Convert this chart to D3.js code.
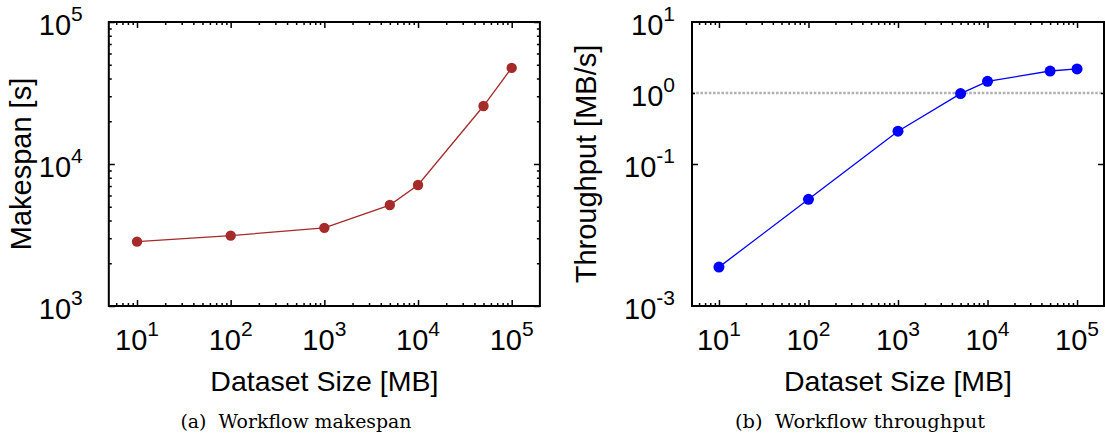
<!DOCTYPE html>
<html>
<head>
<meta charset="utf-8">
<script src="https://cdn.jsdelivr.net/npm/d3@7"></script>
<style>
  html, body { margin: 0; padding: 0; background: #fff; }
  svg { display: block; }
</style>
</head>
<body>
<svg id="chart" width="1105" height="444"></svg>
<script>
// ---- data ----
const datasetSizes = [10, 100, 1000, 5000, 10000, 50000, 100000];
const makespan = [2840, 3130, 3550, 5140, 7110, 25600, 47500];
const throughput = [0.00353, 0.0318, 0.290, 0.98, 1.46, 2.04, 2.18];
const xTickValues = [10, 100, 1000, 10000, 100000];
const xTickExponents = ["1", "2", "3", "4", "5"];
const yTickValuesA = [1e3, 1e4, 1e5];
const yTickExponentsA = ["3", "4", "5"];
const yTickValuesB = [10, 1, 0.1, 0.001];
const yTickExponentsB = ["1", "0", "-1", "-3"];
const referenceThroughput = [1];
const xTitle = "Dataset Size [MB]";
const yTitleA = "Makespan [s]";
const yTitleB = "Throughput [MB/s]";
const captionA = "(a)\u00A0\u00A0Workflow makespan";
const captionB = "(b)\u00A0\u00A0Workflow throughput";

const svg = d3.select("#chart");
svg.append("rect").attr("width", 1105).attr("height", 444).attr("fill", "#fff");
const SANS = "'Liberation Sans', Arial, Helvetica, sans-serif";
const SERIF = "'DejaVu Serif', 'Liberation Serif', serif";

function minorsLog(lo, hi) {
  const out = [];
  for (let e = Math.floor(Math.log10(lo)); e <= Math.ceil(Math.log10(hi)); e++) {
    for (let m = 2; m <= 9; m++) {
      const v = m * Math.pow(10, e);
      if (v > lo * 1.001 && v < hi * 0.999) out.push(v);
    }
  }
  return out;
}

function panel(cfg) {
  const g = svg.append("g");
  const x = cfg.x, y = cfg.y;
  const [x0, x1] = x.range();
  const [y0, y1] = y.range(); // y0 bottom, y1 top

  // reference line
  if (cfg.ref) {
    g.selectAll("line.ref").data(cfg.ref).join("line")
      .attr("x1", x0).attr("x2", x1)
      .attr("y1", d => y(d)).attr("y2", d => y(d))
      .attr("stroke", "#b2b2b2").attr("stroke-width", 2.4)
      .attr("stroke-dasharray", "2.6,1.6");
  }

  // ticks (inward, mirrored)
  function styleAxis(sel) {
    sel.select(".domain").remove();
    sel.selectAll(".tick line").attr("stroke", "#000").attr("stroke-width", 1.5);
    sel.selectAll(".tick text").remove();
  }
  const xMin = minorsLog(x.domain()[0], x.domain()[1]);
  g.append("g").attr("transform", `translate(0,${y0})`)
    .call(d3.axisBottom(x).tickValues(cfg.xTicks).tickSize(-6).tickFormat(""))
    .call(styleAxis);
  g.append("g").attr("transform", `translate(0,${y0})`)
    .call(d3.axisBottom(x).tickValues(xMin).tickSize(-3).tickFormat(""))
    .call(styleAxis);
  g.append("g").attr("transform", `translate(0,${y1})`)
    .call(d3.axisTop(x).tickValues(cfg.xTicks).tickSize(-6).tickFormat(""))
    .call(styleAxis);
  g.append("g").attr("transform", `translate(0,${y1})`)
    .call(d3.axisTop(x).tickValues(xMin).tickSize(-3).tickFormat(""))
    .call(styleAxis);

  g.append("g").attr("transform", `translate(${x0},0)`)
    .call(d3.axisLeft(y).tickValues(cfg.yMajor).tickSize(-6).tickFormat(""))
    .call(styleAxis);
  g.append("g").attr("transform", `translate(${x1},0)`)
    .call(d3.axisRight(y).tickValues(cfg.yMajor).tickSize(-6).tickFormat(""))
    .call(styleAxis);
  if (cfg.yMinor.length) {
    g.append("g").attr("transform", `translate(${x0},0)`)
      .call(d3.axisLeft(y).tickValues(cfg.yMinor).tickSize(-3).tickFormat(""))
      .call(styleAxis);
    g.append("g").attr("transform", `translate(${x1},0)`)
      .call(d3.axisRight(y).tickValues(cfg.yMinor).tickSize(-3).tickFormat(""))
      .call(styleAxis);
  }

  // series
  const pts = cfg.xs.map((d, i) => [d, cfg.ys[i]]);
  g.append("path").datum(pts)
    .attr("fill", "none").attr("stroke", cfg.color).attr("stroke-width", 1.3)
    .attr("d", d3.line().x(d => x(d[0])).y(d => y(d[1])));
  g.selectAll("circle.pt").data(pts).join("circle")
    .attr("cx", d => x(d[0])).attr("cy", d => y(d[1]))
    .attr("r", cfg.r).attr("fill", cfg.color);

  // frame
  g.append("rect")
    .attr("x", x0).attr("y", y1).attr("width", x1 - x0).attr("height", y0 - y1)
    .attr("fill", "none").attr("stroke", "#000").attr("stroke-width", 2);

  // x tick labels
  const xl = g.selectAll("text.xl").data(cfg.xTicks).join("text")
    .attr("x", d => x(d)).attr("y", 350)
    .attr("text-anchor", "middle").attr("font-family", SANS).attr("fill", "#000");
  xl.append("tspan").attr("font-size", 29).text("10");
  xl.append("tspan").attr("font-size", 21).attr("dy", -14).text((d, i) => cfg.xExp[i]);

  // y tick labels
  const yl = g.selectAll("text.yl").data(cfg.yLabelVals).join("text")
    .attr("x", x0 - cfg.yLabelGap).attr("y", d => y(d) + 13)
    .attr("text-anchor", "end").attr("font-family", SANS).attr("fill", "#000");
  yl.append("tspan").attr("font-size", 29).text("10");
  yl.append("tspan").attr("font-size", 21).attr("dy", -14).text((d, i) => cfg.yExp[i]);

  // titles
  g.append("text").attr("x", (x0 + x1) / 2).attr("y", 391)
    .attr("text-anchor", "middle").attr("font-family", SANS).attr("font-size", 28.5)
    .text(xTitle);
  g.append("text")
    .attr("transform", `translate(${cfg.yTitleX},${(y0 + y1) / 2}) rotate(-90)`)
    .attr("text-anchor", "middle").attr("font-family", SANS).attr("font-size", 29)
    .text(cfg.yTitle);
  g.append("text").attr("x", cfg.capX).attr("y", 428)
    .attr("text-anchor", "middle").attr("font-family", SERIF).attr("font-size", 18)
    .attr("textLength", cfg.capW).attr("lengthAdjust", "spacingAndGlyphs")
    .text(cfg.caption);
}

panel({
  x: d3.scaleLog().domain([5, 2e5]).range([108.8, 539.9]),
  y: d3.scaleLog().domain([1e3, 1e5]).range([306, 22]),
  xTicks: xTickValues, xExp: xTickExponents,
  yMajor: yTickValuesA, yMinor: minorsLog(1e3, 1e5),
  yLabelVals: yTickValuesA, yExp: yTickExponentsA, yLabelGap: 26,
  xs: datasetSizes, ys: makespan, color: "#a52a2a", r: 5.2,
  yTitle: yTitleA, yTitleX: 31, caption: captionA, capX: 296, capW: 231
});

panel({
  x: d3.scaleLog().domain([5, 2e5]).range([692, 1104]),
  y: d3.scaleLog().domain([1e-3, 10]).range([306, 22]),
  xTicks: xTickValues, xExp: xTickExponents,
  yMajor: [0.1], yMinor: [1],
  yLabelVals: yTickValuesB, yExp: yTickExponentsB, yLabelGap: 17,
  xs: datasetSizes, ys: throughput, color: "#0000ff", r: 5.5,
  ref: referenceThroughput,
  yTitle: yTitleB, yTitleX: 596, caption: captionB, capX: 860, capW: 250
});
</script>
</body>
</html>
